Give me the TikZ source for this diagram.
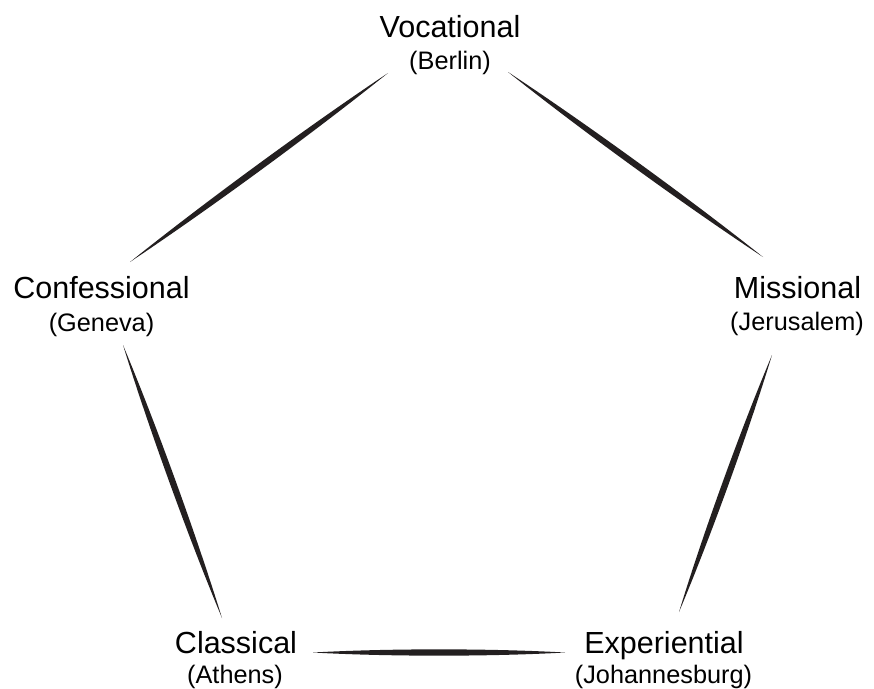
\documentclass[tikz,border=0pt]{standalone}
\usepackage{fontspec}
\setmainfont{Liberation Sans}
\usepackage{xcolor}
\usepackage{tikz}
\usetikzlibrary{calc}

\definecolor{ink}{RGB}{35,31,32}

% tapered connector: thick in the middle, pointed at both ends
\newcommand{\spindle}[2]{%
  \fill[ink] (#1)
    .. controls ($(#1)!0.3!(#2)!4.2pt!90:(#2)$) and ($(#1)!0.7!(#2)!4.2pt!90:(#2)$) .. (#2)
    .. controls ($(#1)!0.7!(#2)!4.2pt!-90:(#2)$) and ($(#1)!0.3!(#2)!4.2pt!-90:(#2)$) .. (#1)
    -- cycle;}

\begin{document}
\begin{tikzpicture}[
    x=1pt, y=-1pt,
    title/.style={anchor=base, inner sep=0pt, text=black, font=\fontsize{30.5}{36}\selectfont},
    place/.style={anchor=base, inner sep=0pt, text=black, font=\fontsize{25.3}{30}\selectfont}
]
    \useasboundingbox (0,0) rectangle (874,688);

    % Traditions
    \node[title] (voc) at (450,37) {Vocational};
    \node[place] (berlin) at (450,69) {(Berlin)};
    \node[title] (conf) at (101.5,298) {Confessional};
    \node[place] (geneva) at (101.5,331) {(Geneva)};
    \node[title] (miss) at (797.5,298) {Missional};
    \node[place] (jerusalem) at (797,330) {(Jerusalem)};
    \node[title] (class) at (236,653) {Classical};
    \node[place] (athens) at (235,683) {(Athens)};
    \node[title] (exp) at (664,653) {Experiential};
    \node[place] (johannesburg) at (663.5,683) {(Johannesburg)};

    % Connector ends
    \coordinate (voc-conf) at (388,73);
    \coordinate (conf-voc) at (130,262);
    \coordinate (voc-miss) at (508,72);
    \coordinate (miss-voc) at (763,257);
    \coordinate (conf-class) at (123,345);
    \coordinate (class-conf) at (222,618);
    \coordinate (miss-exp) at (772,355);
    \coordinate (exp-miss) at (679,612);
    \coordinate (class-exp) at (313,652.5);
    \coordinate (exp-class) at (565,652.5);

    % Connectors
    \spindle{voc-conf}{conf-voc}
    \spindle{voc-miss}{miss-voc}
    \spindle{conf-class}{class-conf}
    \spindle{miss-exp}{exp-miss}
    \spindle{class-exp}{exp-class}
\end{tikzpicture}
\end{document}
